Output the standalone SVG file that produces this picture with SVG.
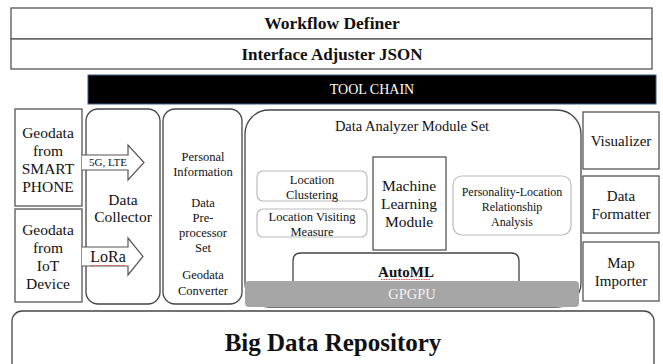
<svg xmlns="http://www.w3.org/2000/svg" width="663" height="364" viewBox="0 0 663 364">
<style>
text{font-family:'Liberation Serif',serif;fill:#111;text-anchor:middle;}
.box{fill:#fff;stroke:#555;stroke-width:1.3;}
.rbox{fill:#fff;stroke:#444;stroke-width:1.3;}
.lbox{fill:#fff;stroke:#bbb;stroke-width:1.2;}
.b{font-weight:bold;}
.arrow{fill:#fff;stroke:#555;stroke-width:1.2;}
.squig{stroke:#e05050;stroke-width:1;stroke-dasharray:1.5 1;fill:none;}
</style>
<rect width="663" height="364" fill="#fff"/>
<g font-family="Liberation Serif">
<g id="workflow-definer">
<rect class="box" x="11" y="8" width="641" height="31"/>
<text class="b" x="332" y="29" font-size="17.5">Workflow Definer</text>
</g>
<g id="interface-adjuster">
<rect class="box" x="11" y="39" width="641" height="30"/>
<text class="b" x="332" y="60" font-size="17">Interface Adjuster JSON</text>
</g>
<g id="tool-chain">
<rect x="88" y="75" width="568" height="29" fill="#000" stroke="#3a5a8a" stroke-width="1"/>
<text x="372" y="94" font-size="14" style="fill:#fff">TOOL CHAIN</text>
</g>
<g id="big-data-repository">
<rect class="rbox" x="12" y="311" width="642" height="70" rx="10"/>
<text class="b" x="333" y="351" font-size="25">Big Data Repository</text>
</g>
<g id="smartphone">
<rect class="box" x="15" y="109" width="67" height="97"/>
<text font-size="15.5"><tspan x="48" y="138">Geodata</tspan><tspan x="48" y="156">from</tspan><tspan x="48" y="174">SMART</tspan><tspan x="48" y="192">PHONE</tspan></text>
</g>
<g id="iot-device">
<rect class="box" x="15" y="209" width="67" height="93"/>
<text font-size="15.5"><tspan x="48" y="235">Geodata</tspan><tspan x="48" y="253">from</tspan><tspan x="48" y="271">IoT</tspan><tspan x="48" y="289">Device</tspan></text>
</g>
<g id="data-collector">
<rect class="rbox" x="86" y="109" width="74" height="195" rx="12"/>
<text font-size="15.5"><tspan x="123" y="205">Data</tspan><tspan x="123" y="222">Collector</tspan></text>
</g>
<g id="connectors">
<path class="arrow" d="M82,155 H128 V145 L144,162.5 L128,180 V170 H82"/>
<text x="108" y="166" font-size="11">5G, LTE</text>
<path class="arrow" d="M82,247 H128 V238 L143,256.5 L128,275 V266 H82"/>
<text x="108" y="262" font-size="16">LoRa</text>
<path class="squig" d="M91,265.5 H125"/>
</g>
<g id="data-preprocessor">
<rect class="rbox" x="163" y="109" width="79" height="195" rx="12"/>
<text font-size="12.5"><tspan x="203" y="161">Personal</tspan><tspan x="203" y="176">Information</tspan><tspan x="203" y="207">Data</tspan><tspan x="203" y="222">Pre-</tspan><tspan x="203" y="237">processor</tspan><tspan x="203" y="252">Set</tspan><tspan x="203" y="279">Geodata</tspan><tspan x="203" y="295">Converter</tspan></text>
</g>
<g id="data-analyzer">
<rect class="rbox" x="245" y="110" width="336" height="197" rx="24"/>
<text x="412" y="131" font-size="14.5">Data Analyzer Module Set</text>
</g>
<g id="location-clustering">
<rect class="lbox" x="257" y="171" width="110" height="30" rx="6"/>
<text font-size="12.5"><tspan x="312" y="184">Location</tspan><tspan x="312" y="199">Clustering</tspan></text>
</g>
<g id="location-visiting">
<rect class="lbox" x="257" y="209" width="110" height="28" rx="6"/>
<text font-size="12.5"><tspan x="312" y="221">Location Visiting</tspan><tspan x="312" y="236">Measure</tspan></text>
</g>
<g id="ml-module">
<rect class="box" x="373" y="157" width="73" height="93"/>
<text font-size="15.5"><tspan x="409" y="191">Machine</tspan><tspan x="409" y="209">Learning</tspan><tspan x="409" y="227">Module</tspan></text>
</g>
<g id="personality-location">
<rect class="lbox" x="453" y="176" width="118" height="59" rx="9"/>
<text font-size="12"><tspan x="512" y="196">Personality-Location</tspan><tspan x="512" y="211">Relationship</tspan><tspan x="512" y="226">Analysis</tspan></text>
</g>
<g id="automl">
<path class="rbox" d="M293,281 V261 Q293,253 301,253 H511 Q519,253 519,261 V281"/>
<text x="406" y="277" font-size="15" style="font-weight:600">AutoML</text>
<path class="squig" d="M381,279.5 H431"/>
</g>
<g id="gpgpu">
<rect x="245" y="281" width="334" height="26" rx="4" fill="#a6a6a6"/>
<text x="412" y="299" font-size="14.5" style="fill:#f2f2f2">GPGPU</text>
</g>
<g id="visualizer">
<rect class="box" x="583" y="112" width="76" height="57"/>
<text x="621" y="146" font-size="15">Visualizer</text>
</g>
<g id="data-formatter">
<rect class="box" x="583" y="176" width="76" height="57"/>
<text font-size="15"><tspan x="621" y="201">Data</tspan><tspan x="621" y="219">Formatter</tspan></text>
</g>
<g id="map-importer">
<rect class="box" x="583" y="242" width="76" height="59"/>
<text font-size="15"><tspan x="621" y="268">Map</tspan><tspan x="621" y="286">Importer</tspan></text>
</g>
</g>
</svg>
